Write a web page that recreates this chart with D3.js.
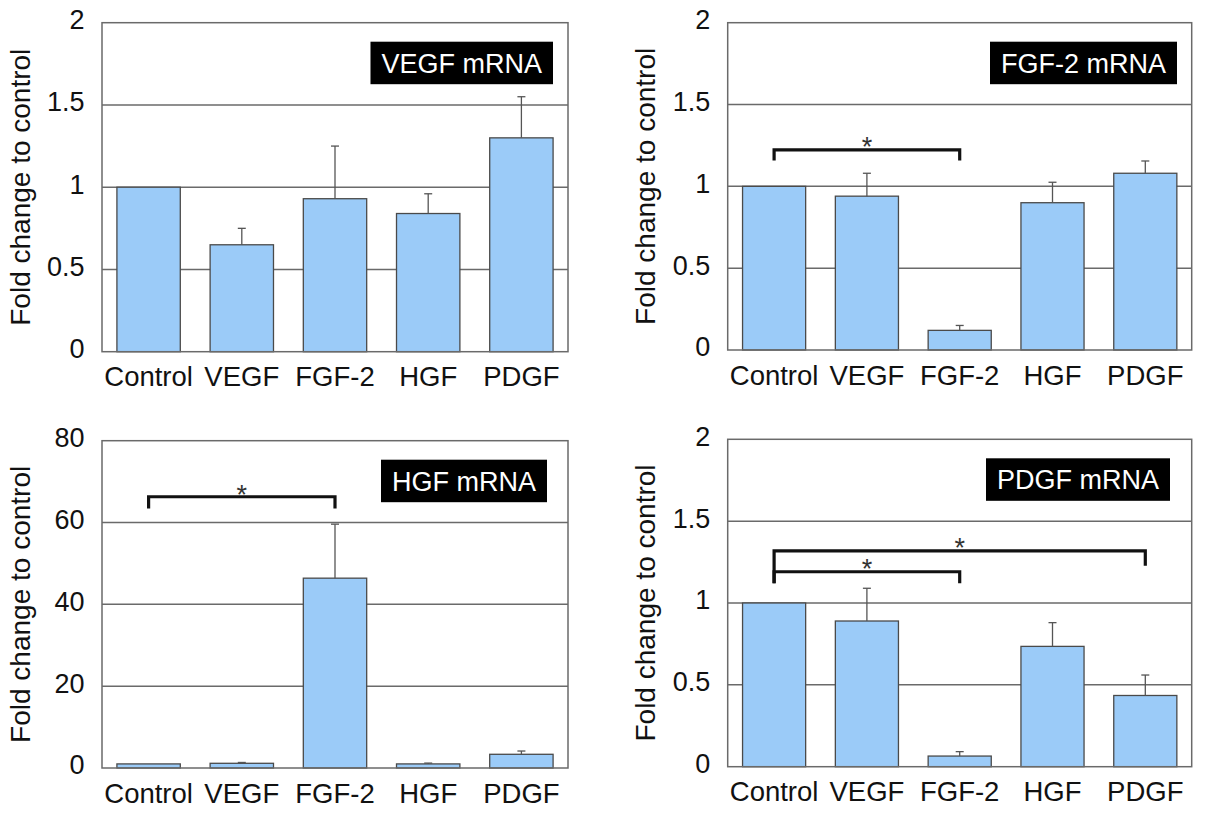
<!DOCTYPE html>
<html>
<head>
<meta charset="utf-8">
<script src="https://cdn.jsdelivr.net/npm/d3@7"></script>
<style>
  html, body { margin: 0; padding: 0; background: #fff; }
  svg { display: block; font-family: "Liberation Sans", Arial, Helvetica, sans-serif; }
</style>
</head>
<body>
<svg id="chart" width="1207" height="815"></svg>
<script>
// Treatment groups along the x axis of every panel
const categories = ["Control", "VEGF", "FGF-2", "HGF", "PDGF"];

// VEGF mRNA: mean fold change and upper error
const vegfMean = [1.00, 0.65, 0.93, 0.84, 1.30];
const vegfErr  = [0.00, 0.10, 0.32, 0.12, 0.25];

// FGF-2 mRNA
const fgf2Mean = [1.00, 0.94, 0.12, 0.90, 1.08];
const fgf2Err  = [0.00, 0.14, 0.03, 0.125, 0.075];

// HGF mRNA
const hgfMean = [1.0, 1.15, 46.4, 1.0, 3.35];
const hgfErr  = [0.0, 0.20, 13.2, 0.20, 0.80];

// PDGF mRNA
const pdgfMean = [1.00, 0.89, 0.065, 0.735, 0.435];
const pdgfErr  = [0.00, 0.20, 0.027, 0.145, 0.125];

// Y axis ticks
const ticksFold = [0, 0.5, 1, 1.5, 2];
const ticksHgf  = [0, 20, 40, 60, 80];

// Significance brackets: from/to category index, bar height, end drops, star height
const fgf2Sig = [{ from: 0, to: 2, top: 1.223, dropL: 1.158, dropR: 1.158, star: 1.285 }];
const hgfSig  = [{ from: 0, to: 2, top: 66.3, dropL: 63.4, dropR: 63.4, star: 68.6 }];
const pdgfSig = [
  { from: 0, to: 2, top: 1.191, dropL: 1.12, dropR: 1.12, star: 1.252 },
  { from: 0, to: 4, top: 1.318, dropL: 1.12, dropR: 1.228, star: 1.381 }
];

const panels = [
  { title: "VEGF mRNA",  mean: vegfMean, err: vegfErr, ticks: ticksFold, max: 2,  sig: [],      x0: 102,   x1: 568,   y0: 22.7,  y1: 351.7, boxRight: 553 },
  { title: "FGF-2 mRNA", mean: fgf2Mean, err: fgf2Err, ticks: ticksFold, max: 2,  sig: fgf2Sig, x0: 727.7, x1: 1191.7, y0: 22.7,  y1: 350,   boxRight: 1177 },
  { title: "HGF mRNA",   mean: hgfMean,  err: hgfErr,  ticks: ticksHgf,  max: 80, sig: hgfSig,  x0: 102,   x1: 568,   y0: 440.7, y1: 768,   boxRight: 547 },
  { title: "PDGF mRNA",  mean: pdgfMean, err: pdgfErr, ticks: ticksFold, max: 2,  sig: pdgfSig, x0: 727.7, x1: 1191.7, y0: 439.3, y1: 766.7, boxRight: 1170 }
];

const svg = d3.select("#chart");
const gridColor = "#6a6a6a";

panels.forEach(p => {
  const g = svg.append("g");
  const x = d3.scaleBand().domain(categories).range([p.x0, p.x1])
    .paddingInner(0.32).paddingOuter(0.16);
  const y = d3.scaleLinear().domain([0, p.max]).range([p.y1, p.y0]);

  // horizontal gridlines
  g.append("g")
    .selectAll("line").data(p.ticks.filter(t => t > 0 && t < p.max)).join("line")
    .attr("x1", p.x0).attr("x2", p.x1)
    .attr("y1", d => y(d)).attr("y2", d => y(d))
    .attr("stroke", gridColor).attr("stroke-width", 1.5);

  // tick labels
  const yAxis = d3.axisLeft(y).tickValues(p.ticks).tickSize(0).tickPadding(17.5)
    .tickFormat(d => String(d));
  const ya = g.append("g").attr("transform", `translate(${p.x0},0)`).call(yAxis);
  ya.select(".domain").remove();
  ya.selectAll("text")
    .attr("font-size", 27).attr("fill", "#111")
    .attr("font-family", "'Liberation Sans', Arial, sans-serif")
    .attr("dy", "0.22em");

  // bars
  const cats = categories.map((c, i) => ({ c, v: p.mean[i], e: p.err[i] }));
  g.append("g").selectAll("rect").data(cats).join("rect")
    .attr("x", d => x(d.c)).attr("width", x.bandwidth())
    .attr("y", d => y(d.v)).attr("height", d => y(0) - y(d.v))
    .attr("fill", "#9bcbf8").attr("stroke", "#4a4a4a").attr("stroke-width", 1.3);

  // upper error bars
  const eg = g.append("g").attr("stroke", "#555").attr("stroke-width", 1.3);
  const withErr = cats.filter(d => d.e > 0);
  eg.selectAll("line.stem").data(withErr).join("line").attr("class", "stem")
    .attr("x1", d => x(d.c) + x.bandwidth() / 2).attr("x2", d => x(d.c) + x.bandwidth() / 2)
    .attr("y1", d => y(d.v)).attr("y2", d => y(d.v + d.e));
  eg.selectAll("line.cap").data(withErr).join("line").attr("class", "cap")
    .attr("x1", d => x(d.c) + x.bandwidth() / 2 - 4).attr("x2", d => x(d.c) + x.bandwidth() / 2 + 4)
    .attr("y1", d => y(d.v + d.e)).attr("y2", d => y(d.v + d.e));

  // plot frame
  g.append("rect")
    .attr("x", p.x0).attr("y", p.y0)
    .attr("width", p.x1 - p.x0).attr("height", p.y1 - p.y0)
    .attr("fill", "none").attr("stroke", gridColor).attr("stroke-width", 1.5);

  // category labels
  g.append("g").selectAll("text").data(categories).join("text")
    .attr("x", d => x(d) + x.bandwidth() / 2)
    .attr("y", p.y1 + 34.5)
    .attr("text-anchor", "middle")
    .attr("font-size", 27.5).attr("fill", "#111")
    .text(d => d);

  // y axis title
  g.append("text")
    .attr("transform", `translate(${p.x0 - 72.5},${(p.y0 + p.y1) / 2}) rotate(-90)`)
    .attr("text-anchor", "middle")
    .attr("font-size", 28).attr("fill", "#111")
    .text("Fold change to control");

  // significance brackets
  const cx = i => x(categories[i]) + x.bandwidth() / 2;
  p.sig.forEach(s => {
    g.append("path")
      .attr("d", `M${cx(s.from)},${y(s.dropL)}V${y(s.top)}H${cx(s.to)}V${y(s.dropR)}`)
      .attr("fill", "none").attr("stroke", "#111").attr("stroke-width", 3.2);
    g.append("text")
      .attr("x", (cx(s.from) + cx(s.to)) / 2)
      .attr("y", y(s.star))
      .attr("dy", "0.6em")
      .attr("text-anchor", "middle")
      .attr("font-size", 27).attr("fill", "#333")
      .text("*");
  });

  // title badge
  const badge = g.append("g");
  const t = badge.append("text")
    .attr("font-size", 27).attr("fill", "#fff")
    .attr("text-anchor", "end")
    .attr("x", p.boxRight - 11)
    .attr("y", p.y0 + 19 + 31)
    .text(p.title);
  const w = t.node().getComputedTextLength();
  badge.insert("rect", "text")
    .attr("x", p.boxRight - w - 22).attr("y", p.y0 + 19)
    .attr("width", w + 22).attr("height", 42.5)
    .attr("fill", "#000");
});
</script>
</body>
</html>
